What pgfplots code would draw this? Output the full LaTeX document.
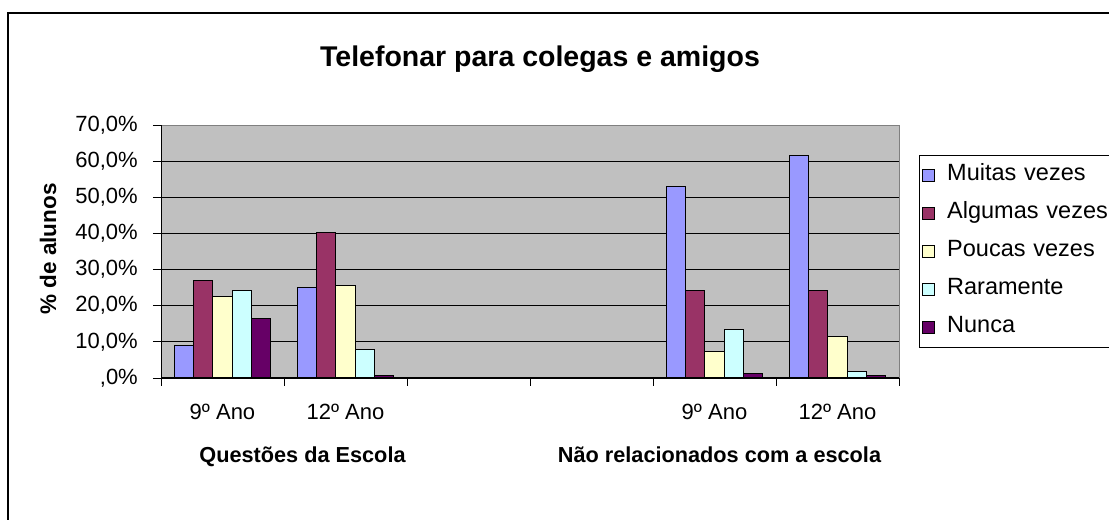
\documentclass[border=0pt]{standalone}
\usepackage{fontspec}
\setmainfont{Liberation Sans}
\usepackage{pgfplots}
\pgfplotsset{compat=1.18}
\definecolor{cMuitas}{HTML}{9999FF}
\definecolor{cAlgumas}{HTML}{993366}
\definecolor{cPoucas}{HTML}{FFFFCC}
\definecolor{cRaramente}{HTML}{CCFFFF}
\definecolor{cNunca}{HTML}{660066}
\definecolor{plotgray}{HTML}{C0C0C0}
\definecolor{framegray}{HTML}{808080}
\pgfplotsset{sq/.style={legend image code/.code={\draw[##1,line width=0.8bp] (0bp,-6bp) rectangle (12bp,6bp);}}}
\begin{document}
\begin{tikzpicture}
\useasboundingbox (0,0) rectangle (1109bp,520bp);
\clip (0,0) rectangle (1109bp,520bp);
\fill[white] (0,0) rectangle (1109bp,520bp);
\draw[line width=2.2bp] (8bp,-20bp) -- (8bp,507bp) -- (1130bp,507bp);
\begin{axis}[
  at={(161bp,142bp)}, anchor=south west,
  scale only axis, width=738bp, height=253bp,
  xmin=0.5, xmax=6.5, ymin=0, ymax=70,
  ybar=0pt, bar width=19.3bp,
  axis background/.style={fill=plotgray},
  axis line style={draw=framegray, line width=1bp},
  tick pos=left, tick align=outside,
  major tick length=8bp, minor tick length=8bp,
  tick style={black, line width=0.8bp},
  xtick={1,...,6},
  xticklabels={9º Ano,12º Ano,,,9º Ano,12º Ano},
  major x tick style={draw=none},
  minor xtick={0.5,1.5,...,6.5},
  ytick={0,10,...,70},
  yticklabels={{,0\%},{10,0\%},{20,0\%},{30,0\%},{40,0\%},{50,0\%},{60,0\%},{70,0\%}},
  ymajorgrids, major grid style={black, line width=0.8bp},
  ticklabel style={font=\fontsize{22bp}{24bp}\selectfont},
  xticklabel style={anchor=north, inner sep=0pt, yshift=-18bp},
  yticklabel style={anchor=east, inner sep=0pt, xshift=-15bp},
  ylabel={\% de alunos},
  ylabel style={font=\bfseries\fontsize{22.5bp}{24bp}\selectfont, at={(axis description cs:-0.1531,0.51)}, anchor=center},
  legend style={at={(1.0271,0.8814)}, anchor=north west, draw=black, line width=0.8bp, fill=white,
    font=\fontsize{23.5bp}{25bp}\selectfont, inner xsep=3bp, inner ysep=7.5bp, row sep=13bp,
    nodes={inner sep=2bp, text height=16bp, text depth=5bp},
    /tikz/every odd column/.append style={column sep=10bp},
    /tikz/every even column/.append style={text width=180bp}},
  legend cell align=left,
  every axis plot/.append style={draw=black, line width=0.8bp},
]
\addplot[fill=cMuitas, sq] coordinates {(1,8.9) (2,25.1) (5,52.9) (6,61.5)};
\addlegendentry{Muitas vezes}
\addplot[fill=cAlgumas, sq] coordinates {(1,27.1) (2,40.2) (5,24.1) (6,24.1)};
\addlegendentry{Algumas vezes}
\addplot[fill=cPoucas, sq] coordinates {(1,22.5) (2,25.5) (5,7.3) (6,11.4)};
\addlegendentry{Poucas vezes}
\addplot[fill=cRaramente, sq] coordinates {(1,24.1) (2,7.9) (5,13.5) (6,1.7)};
\addlegendentry{Raramente}
\addplot[fill=cNunca, sq] coordinates {(1,16.5) (2,0.8) (5,1.3) (6,0.8)};
\addlegendentry{Nunca}
\draw[black, line width=1bp] (rel axis cs:0,0) -- (rel axis cs:1,0);
\draw[black, line width=1bp] (rel axis cs:0,0) -- (rel axis cs:0,1);
\end{axis}
\node[font=\bfseries\fontsize{28.5bp}{30bp}\selectfont, anchor=base] at (540bp,453bp) {Telefonar para colegas e amigos};
\node[font=\bfseries\fontsize{21.7bp}{24bp}\selectfont, anchor=base] at (302.5bp,57bp) {Questões da Escola};
\node[font=\bfseries\fontsize{21.7bp}{24bp}\selectfont, anchor=base] at (719.5bp,57bp) {Não relacionados com a escola};
\end{tikzpicture}
\end{document}
